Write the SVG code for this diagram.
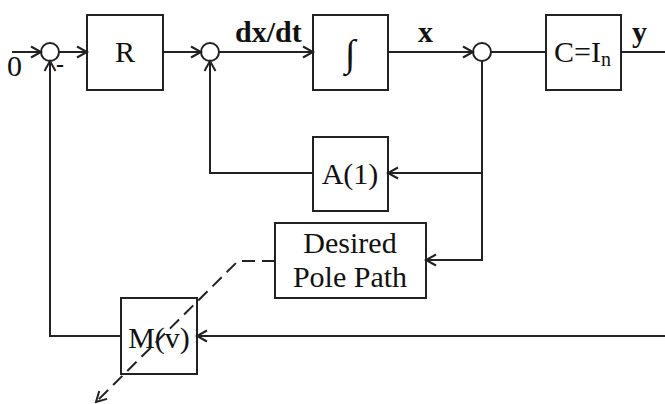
<svg xmlns="http://www.w3.org/2000/svg" width="665" height="404" viewBox="0 0 665 404">
<defs>
<style>
.box{fill:#fff;stroke:#222;stroke-width:2}
.sum{fill:#fff;stroke:#222;stroke-width:2}
.ln{fill:none;stroke:#222;stroke-width:2}
.dash{fill:none;stroke:#222;stroke-width:2;stroke-dasharray:13,7}
.t{font-family:"Liberation Serif","Times New Roman",serif;font-size:30px;fill:#111}
.b{font-weight:bold}
.c{text-anchor:middle}
</style>
<marker id="ar" markerUnits="userSpaceOnUse" markerWidth="14" markerHeight="14" refX="11" refY="7" orient="auto">
<path d="M1,1.5 L11,7 L1,12.5" fill="none" stroke="#222" stroke-width="2"/>
</marker>
</defs>
<rect width="665" height="404" fill="#fff"/>
<g id="sum1"><circle class="sum" cx="50" cy="52" r="9"/></g>
<g id="sum2"><circle class="sum" cx="210" cy="52" r="9"/></g>
<g id="sum3"><circle class="sum" cx="482" cy="52" r="9"/></g>
<g id="R"><rect class="box" x="87" y="15" width="76" height="75"/><text class="t c" x="125" y="62">R</text></g>
<g id="integrator"><rect class="box" x="313" y="15" width="75" height="75"/><text class="t c" x="350" y="66" style="font-size:38px">∫</text></g>
<g id="C"><rect class="box" x="546" y="15" width="75" height="75"/><text class="t" x="554" y="62">C=I<tspan style="font-size:20px" dy="4">n</tspan></text></g>
<g id="A1"><rect class="box" x="313" y="137" width="75" height="74"/><text class="t c" x="350" y="184">A(1)</text></g>
<g id="desired"><rect class="box" x="275" y="223" width="151" height="75"/><text class="t c" x="350" y="253">Desired</text><text class="t c" x="350" y="287">Pole Path</text></g>
<g id="M"><rect class="box" x="121" y="298" width="76" height="76"/><text class="t c" x="159" y="348">M(v)</text></g>
<g id="connectors">
<line class="ln" x1="12" y1="52" x2="41" y2="52" marker-end="url(#ar)"/>
<line class="ln" x1="59" y1="52" x2="87" y2="52" marker-end="url(#ar)"/>
<line class="ln" x1="163" y1="52" x2="201" y2="52" marker-end="url(#ar)"/>
<line class="ln" x1="219" y1="52" x2="313" y2="52" marker-end="url(#ar)"/>
<line class="ln" x1="388" y1="52" x2="473" y2="52" marker-end="url(#ar)"/>
<line class="ln" x1="491" y1="52" x2="546" y2="52"/>
<line class="ln" x1="621" y1="52" x2="665" y2="52"/>
<polyline class="ln" points="482,61 482,260 426,260" marker-end="url(#ar)"/>
<line class="ln" x1="482" y1="173" x2="388" y2="173" marker-end="url(#ar)"/>
<polyline class="ln" points="313,173 210,173 210,61" marker-end="url(#ar)"/>
<line class="ln" x1="665" y1="336" x2="197" y2="336" marker-end="url(#ar)"/>
<polyline class="ln" points="121,336 50,336 50,61" marker-end="url(#ar)"/>
<polyline class="dash" points="275,261 238,261 96,402" marker-end="url(#ar)"/>
</g>
<g id="labels">
<text class="t" x="7" y="76">0</text>
<text class="t b" x="56" y="72" style="font-size:24px">-</text>
<text class="t b" x="235" y="42">dx/dt</text>
<text class="t b" x="418" y="42">x</text>
<text class="t b" x="632" y="42">y</text>
</g>
</svg>
